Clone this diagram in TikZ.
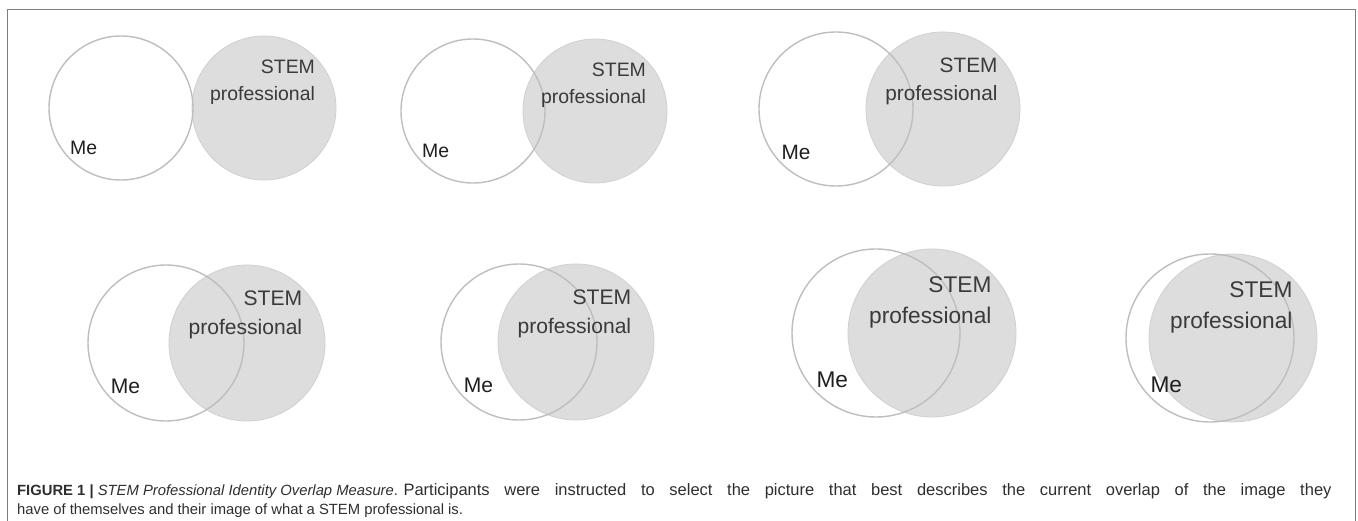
\documentclass[tikz,border=0pt]{standalone}
\usepackage{fontspec}
\setmainfont{Liberation Sans}
\definecolor{stemfill}{RGB}{221,221,221}
\definecolor{meline}{RGB}{190,190,190}
\definecolor{lbltext}{RGB}{58,58,58}
\definecolor{frameline}{RGB}{125,125,125}

\begin{document}
\begin{tikzpicture}[x=1pt, y=-1pt,
  mecirc/.style={draw=meline, line width=1.4pt},
  stemcirc/.style={fill=stemfill, draw=stemfill!94!black, line width=.8pt},
  lbl/.style={text=lbltext, inner sep=0pt},
  captext/.style={text=black!82, inner sep=0pt, font=\fontsize{14.8}{17}\selectfont}]
\useasboundingbox (0,0) rectangle (1358,521);
\draw [frameline, line width=1.5pt] (7.5,521)--(7.5,9.5)--(1355.5,9.5)--(1355.5,521);

% one pair per entry: centre of the Me circle, radius, distance to the STEM circle
\foreach \i/\mx/\my/\r/\d in {1/121/108/72/143, 2/473/111/72/122, 3/836/109/77/107,
    4/166/343/78/81, 5/519/342/78/57, 6/876/333/84/56, 7/1210/338/84/23}{
  \pgfmathsetmacro\fs{0.27*\r}
  \pgfmathsetmacro\bs{1.38*\fs}
  \coordinate (me\i) at (\mx,\my);
  \coordinate (stem\i) at (\mx+\d,\my);
  \fill [white] (me\i) circle [radius=\r];
  \draw [stemcirc] (stem\i) circle [radius=\r];
  \draw [mecirc] (me\i) circle [radius=\r];
  \node [lbl, align=right, anchor=east, font=\fontsize{\fs}{\bs}\selectfont]
    (stemlbl\i) at ([shift={(0.71*\r,-0.36*\r)}]stem\i) {STEM\\professional};
  \node [lbl, text=black!88, font=\fontsize{\fs}{\bs}\selectfont]
    (melbl\i) at ([shift={(-0.52*\r,0.56*\r)}]me\i) {Me};
}

\node [captext, anchor=base west] (cap1) at (17,495)
  {\textbf{FIGURE 1 |} \textit{STEM Professional Identity Overlap Measure}. {\fontsize{16.5}{17}\selectfont\makebox[928pt][s]{Participants were instructed to select the picture that best describes the current overlap of the image they}}};
\node [captext, anchor=base west] (cap2) at (17,514)
  {have of themselves and their image of what a STEM professional is.};
\end{tikzpicture}
\end{document}
